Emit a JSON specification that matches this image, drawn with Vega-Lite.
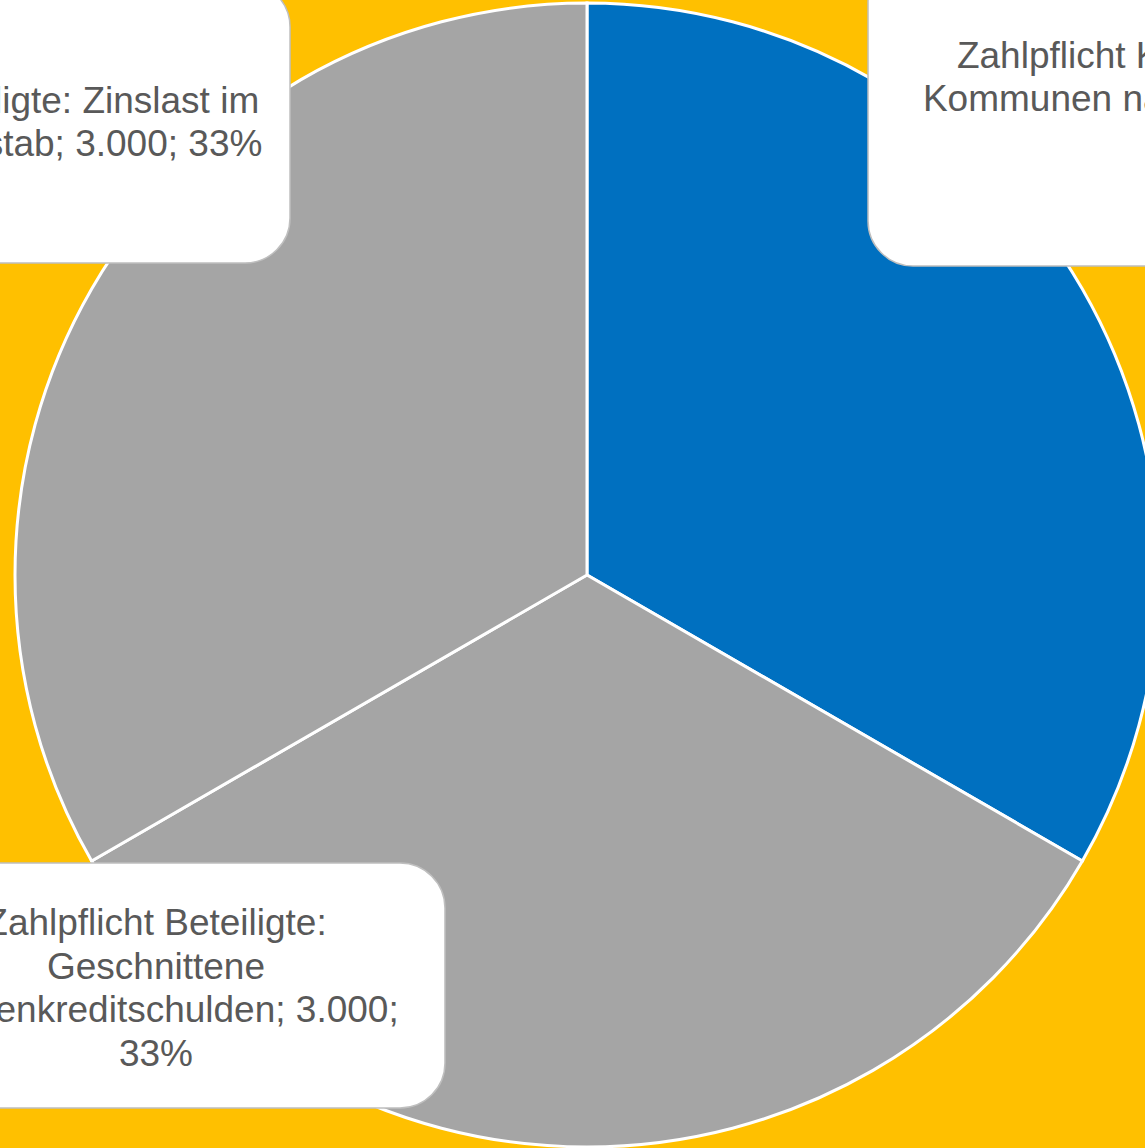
{
  "$schema": "https://vega.github.io/schema/vega-lite/v6.json",
  "width": 1174,
  "height": 1150,
  "autosize": {"type": "none"},
  "padding": 0,
  "background": "#FFC000",
  "config": {"view": {"stroke": null}},
  "datasets": {
    "slices": [
      {"idx": 1, "name": "Zahlpflicht Kommunen", "value": 3000},
      {"idx": 2, "name": "Zahlpflicht Beteiligte: Geschnittene Kassenkreditschulden", "value": 3000},
      {"idx": 3, "name": "Zahlpflicht Beteiligte: Zinslast im Verteilungsmaßstab", "value": 3000}
    ],
    "labels": [
      {"text": "Zahlpflicht Kommunen: Zinslast\nKommunen nach Einwohnerzahlen;\n3.000;\n33%", "bx1": 0.4913, "bx2": 2.0, "by1": 1.08, "by2": 0.5402, "tx": 1.0979, "ty": 0.8864},
      {"text": "Zahlpflicht Beteiligte:\nGeschnittene\nKassenkreditschulden; 3.000;\n33%", "bx1": -1.2587, "bx2": -0.2483, "by1": -0.5035, "by2": -0.9318, "tx": -0.7535, "ty": -0.6294},
      {"text": "Zahlpflicht Beteiligte: Zinslast im\nVerteilungsmaßstab; 3.000; 33%", "bx1": -1.5297, "bx2": -0.5192, "by1": 1.0367, "by2": 0.5455, "tx": -1.035, "ty": 0.8077}
    ]
  },
  "layer": [
    {
      "data": {"name": "slices"},
      "mark": {"type": "arc", "radius": 572, "stroke": "#FFFFFF", "strokeWidth": 3},
      "encoding": {
        "theta": {"field": "value", "type": "quantitative", "stack": true},
        "order": {"field": "idx", "type": "quantitative"},
        "color": {
          "field": "name",
          "type": "nominal",
          "scale": {
            "domain": ["Zahlpflicht Kommunen", "Zahlpflicht Beteiligte: Geschnittene Kassenkreditschulden", "Zahlpflicht Beteiligte: Zinslast im Verteilungsmaßstab"],
            "range": ["#0070C0", "#A5A5A5", "#A5A5A5"]
          },
          "legend": null
        }
      }
    },
    {
      "data": {"name": "labels"},
      "mark": {"type": "rect", "fill": "#FFFFFF", "stroke": "#BFBFBF", "strokeWidth": 1.5, "cornerRadius": 45},
      "encoding": {
        "x": {"field": "bx1", "type": "quantitative", "scale": {"domain": [-1.0262, 1.0262], "nice": false, "zero": false}, "axis": null},
        "x2": {"field": "bx2"},
        "y": {"field": "by1", "type": "quantitative", "scale": {"domain": [-1.00524, 1.00524], "nice": false, "zero": false}, "axis": null},
        "y2": {"field": "by2"}
      }
    },
    {
      "data": {"name": "labels"},
      "mark": {"type": "text", "font": "Liberation Sans", "fontSize": 37, "color": "#595959", "align": "center", "baseline": "alphabetic", "lineBreak": "\n", "lineHeight": 43.5},
      "encoding": {
        "x": {"field": "tx", "type": "quantitative", "scale": {"domain": [-1.0262, 1.0262], "nice": false, "zero": false}, "axis": null},
        "y": {"field": "ty", "type": "quantitative", "scale": {"domain": [-1.00524, 1.00524], "nice": false, "zero": false}, "axis": null},
        "text": {"field": "text", "type": "nominal"}
      }
    }
  ]
}
